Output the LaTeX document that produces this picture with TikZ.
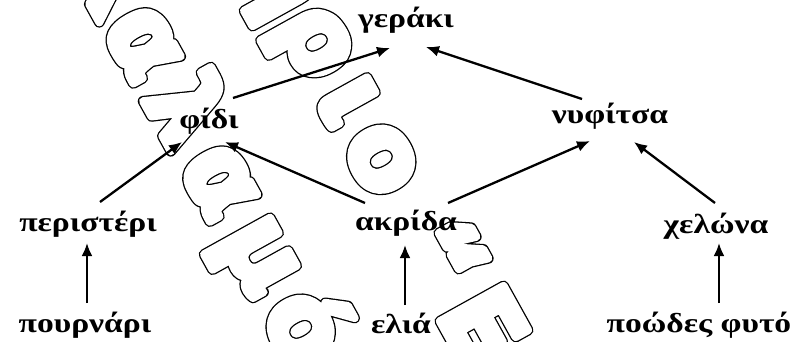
\documentclass[tikz,border=0pt]{standalone}
\usepackage{fontspec}
\setmainfont{Liberation Serif}[FakeStretch=1.22]
\newfontfamily\wmfont{DejaVu Sans}[LetterSpace=13]
\usetikzlibrary{arrows.meta,calc}
\newcommand\wmtext[1]{\rlap{\special{pdf:literal direct 1 Tr 10.6 w 1 j}#1\special{pdf:literal direct 0 Tr}}{\color{white}\special{pdf:literal direct 2 Tr 8 w 1 j}#1\special{pdf:literal direct 0 Tr}}}
\begin{document}
\begin{tikzpicture}[x=1pt,y=-1pt,
  lbl/.style={font=\bfseries\fontsize{27.5}{32}\selectfont, inner sep=0pt, anchor=base},
  wm/.style={font=\wmfont\bfseries\fontsize{100}{110}\selectfont, inner sep=0pt, anchor=base west, rotate=-61},
  arr/.style={line width=2.3pt, -{Latex[length=13pt,width=11pt]}}]
\useasboundingbox (0,0) rectangle (803,342);
\begin{scope}
\clip (0,0) rectangle (803,342);
\node[wm] (wmA) at (101.9,27.0) {\wmtext{\llap{κ}αλαμό}};
\node[wm] (wmB) at (274.4,22.8) {\wmtext{\llap{τή}ριο “Ε}};
\end{scope}
\node[lbl] (gerak) at (406,28) {γεράκι};
\node[lbl] (fidi) at (209,129) {φίδι};
\node[lbl] (nyf) at (610,124) {νυφίτσα};
\node[lbl] (peri) at (88,231) {περιστέρι};
\node[lbl] (akr) at (406,230) {ακρίδα};
\node[lbl] (chel) at (716,233) {χελώνα};
\node[lbl] (pour) at (85,332) {πουρνάρι};
\node[lbl] (elia) at (401,333) {ελιά};
\node[lbl] (poo) at (699,332) {ποώδες φυτό};
\draw[arr] ($(pour.base)+(2,-29)$) -- ($(peri.base)+(-1,12)$);
\draw[arr] ($(elia.base)+(4,-28)$) -- ($(akr.base)+(-1,15)$);
\draw[arr] ($(poo.base)+(20,-29)$) -- ($(chel.base)+(3,10)$);
\draw[arr] ($(peri.base)+(12,-29)$) -- ($(fidi.base)+(-27,13)$);
\draw[arr] ($(akr.base)+(-41,-27)$) -- ($(fidi.base)+(16,13)$);
\draw[arr] ($(fidi.base)+(24,-31)$) -- ($(gerak.base)+(-16,20)$);
\draw[arr] ($(nyf.base)+(-28,-25)$) -- ($(gerak.base)+(20,19)$);
\draw[arr] ($(akr.base)+(42,-27)$) -- ($(nyf.base)+(-20,17)$);
\draw[arr] ($(chel.base)+(-1,-30)$) -- ($(nyf.base)+(24,18)$);
\end{tikzpicture}
\end{document}
